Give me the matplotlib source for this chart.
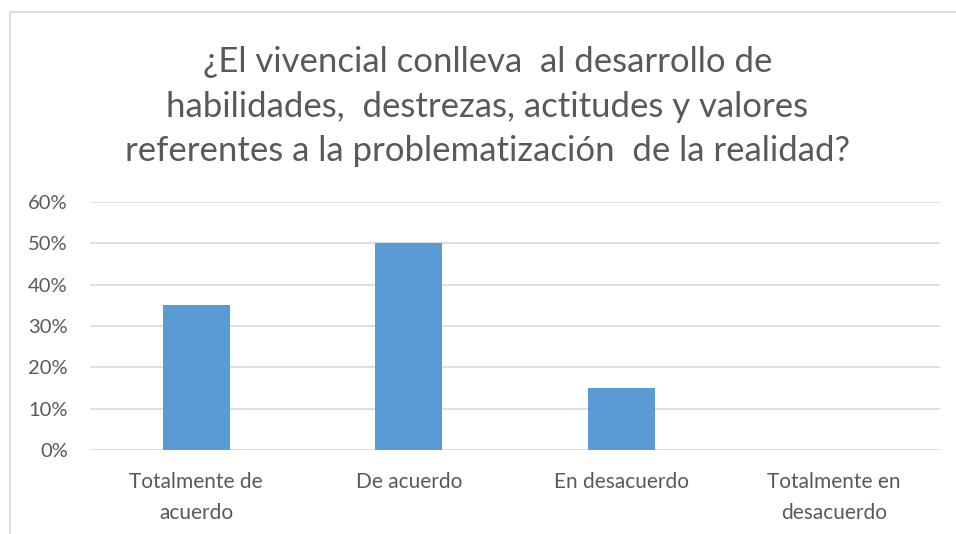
import matplotlib
matplotlib.use("Agg")
import matplotlib.pyplot as plt
from matplotlib.lines import Line2D
from matplotlib.ticker import PercentFormatter

categorias = ["Totalmente de\nacuerdo", "De acuerdo", "En desacuerdo", "Totalmente en\ndesacuerdo"]
porcentajes = [0.35, 0.50, 0.15, 0.0]
ticks_y = [0.0, 0.1, 0.2, 0.3, 0.4, 0.5, 0.6]
titulo = ("¿El vivencial conlleva  al desarrollo de\n"
          "habilidades,  destrezas, actitudes y valores\n"
          "referentes a la problematización  de la realidad?")

gris = "#595959"
plt.rcParams["font.family"] = ["Lato", "DejaVu Sans"]

fig = plt.figure(figsize=(9.56, 5.34), dpi=100)
ax = fig.add_axes([90 / 956, 84 / 534, 850 / 956, 248 / 534])

x = range(len(categorias))
ax.bar(x, porcentajes, width=0.315, color="#5b9bd5", zorder=3)

ax.set_xlim(-0.5, len(categorias) - 0.5)
ax.set_ylim(0, 0.6)
ax.set_yticks(ticks_y)
ax.yaxis.set_major_formatter(PercentFormatter(1.0, decimals=0))
ax.set_xticks(list(x))
ax.set_xticklabels(categorias, fontsize=15, color=gris, linespacing=1.7)
ax.tick_params(axis="y", labelsize=14.5, labelcolor=gris, length=0, pad=16)
ax.tick_params(axis="x", length=0, pad=16)
ax.grid(axis="y", color="#d9d9d9", linewidth=1.2, zorder=0)
for lado in ax.spines.values():
    lado.set_visible(False)

fig.text(0.51, 0.80, titulo, ha="center", va="center", fontsize=25,
         color=gris, linespacing=1.48)

# marco del grafico (recortado a la derecha y abajo)
fig.add_artist(Line2D([9.5 / 956, 9.5 / 956], [0, 1 - 12 / 534], color="#d9d9d9", lw=1.2))
fig.add_artist(Line2D([9.5 / 956, 1], [1 - 12 / 534, 1 - 12 / 534], color="#d9d9d9", lw=1.2))

fig.savefig("out.png", dpi=100)
